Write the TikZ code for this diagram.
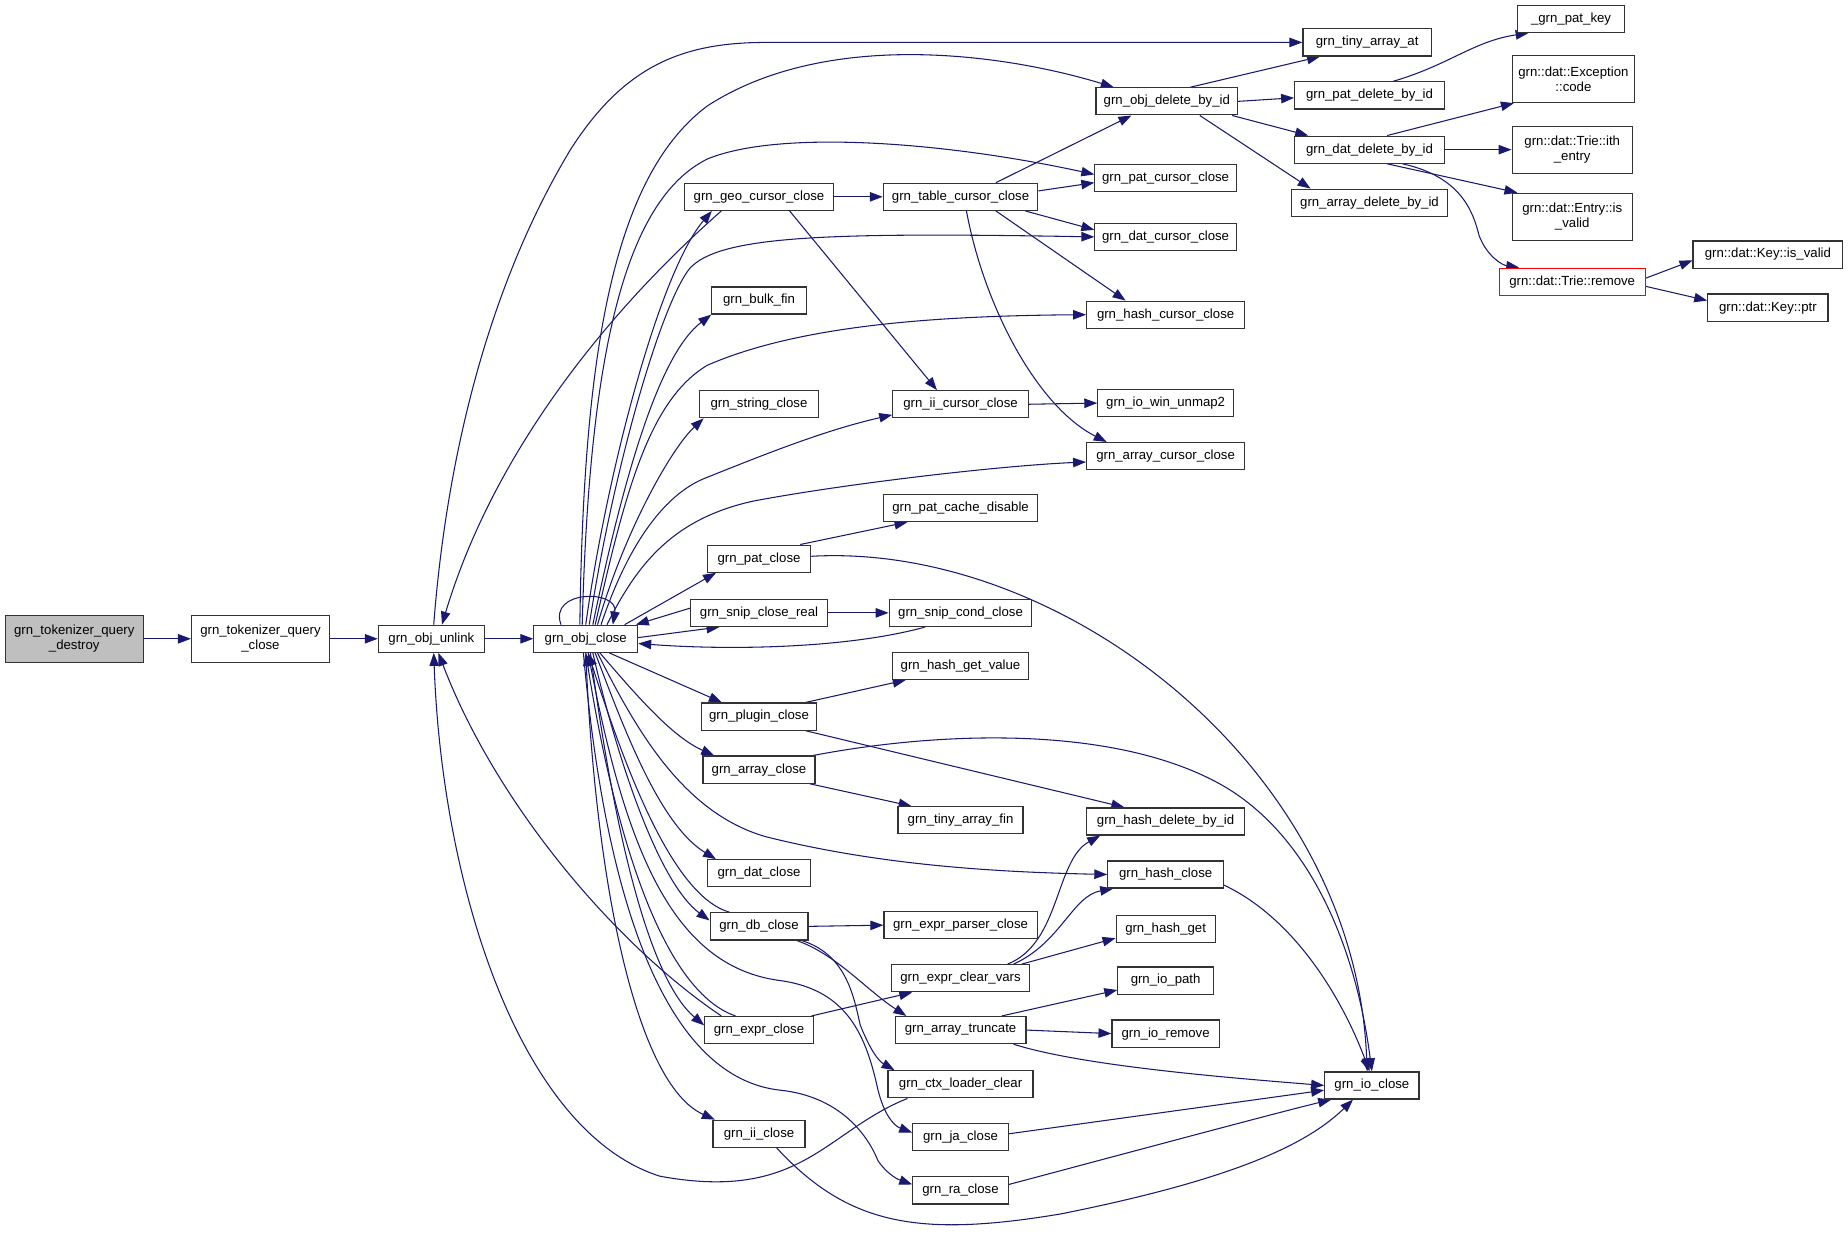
\documentclass[tikz,border=0pt]{standalone}
\usepackage{fontspec}
\setmainfont{Liberation Sans}
\usetikzlibrary{arrows.meta}
\definecolor{navyc}{HTML}{191970}
\definecolor{rootgray}{HTML}{BFBFBF}
\pgfdeclarelayer{edges}
\pgfsetlayers{edges,main}
\begin{document}
\begin{tikzpicture}[x=1pt,y=-1pt,
  box/.style={draw=black!80, line width=1pt, fill=white, minimum height=23pt, inner sep=0pt, font=\fontsize{11.2}{13}\selectfont},
  tall/.style={box, minimum height=40pt, align=center},
  conn/.style={draw=navyc, line width=0.9pt, -{Triangle[length=11pt,width=8pt]}}]
\useasboundingbox (0,0) rectangle (1568,1048);
% column A-C
\node[tall, fill=rootgray, minimum width=117pt] (destroy) at (63,542) {grn\_tokenizer\_query\\\_destroy};
\node[tall, minimum width=117pt] (tq) at (221,542) {grn\_tokenizer\_query\\\_close};
\node[box, minimum width=90pt] (unlink) at (366,542) {grn\_obj\_unlink};
\node[box, minimum width=88pt] (oc) at (497,542) {grn\_obj\_close};
% column D
\node[box, minimum width=127pt] (geo) at (644,167) {grn\_geo\_cursor\_close};
\node[box, minimum width=80pt] (bulk) at (644,255) {grn\_bulk\_fin};
\node[box, minimum width=101pt] (string) at (644,343) {grn\_string\_close};
\node[box, minimum width=88pt] (patc) at (644,474) {grn\_pat\_close};
\node[box, minimum width=116pt] (snipr) at (644,520) {grn\_snip\_close\_real};
\node[box, minimum width=98pt] (plugin) at (644,608) {grn\_plugin\_close};
\node[box, minimum width=95pt] (arrayc) at (644,653) {grn\_array\_close};
\node[box, minimum width=88pt] (datc) at (644,741) {grn\_dat\_close};
\node[box, minimum width=83pt] (dbc) at (644,786) {grn\_db\_close};
\node[box, minimum width=92pt] (exprc) at (644,874) {grn\_expr\_close};
\node[box, minimum width=78pt] (iic) at (644,962) {grn\_ii\_close};
% column E
\node[box, minimum width=131pt] (tcc) at (815,167) {grn\_table\_cursor\_close};
\node[box, minimum width=115pt] (iicc) at (815,343) {grn\_ii\_cursor\_close};
\node[box, minimum width=131pt] (pcd) at (815,431) {grn\_pat\_cache\_disable};
\node[box, minimum width=121pt] (snipc) at (815,520) {grn\_snip\_cond\_close};
\node[box, minimum width=116pt] (hgv) at (815,565) {grn\_hash\_get\_value};
\node[box, minimum width=106pt] (taf) at (815,696) {grn\_tiny\_array\_fin};
\node[box, minimum width=130pt] (epc) at (815,785) {grn\_expr\_parser\_close};
\node[box, minimum width=117pt] (ecv) at (815,830) {grn\_expr\_clear\_vars};
\node[box, minimum width=111pt] (atr) at (815,874) {grn\_array\_truncate};
\node[box, minimum width=123pt] (clc) at (815,920) {grn\_ctx\_loader\_clear};
\node[box, minimum width=81pt] (jac) at (815,965) {grn\_ja\_close};
\node[box, minimum width=81pt] (rac) at (815,1010) {grn\_ra\_close};
% column F
\node[box, minimum width=120pt] (odel) at (990,86) {grn\_obj\_delete\_by\_id};
\node[box, minimum width=120pt] (pcc) at (989,151) {grn\_pat\_cursor\_close};
\node[box, minimum width=120pt] (dcc) at (989,201) {grn\_dat\_cursor\_close};
\node[box, minimum width=134pt] (hcc) at (989,267) {grn\_hash\_cursor\_close};
\node[box, minimum width=115pt] (iwu) at (989,342) {grn\_io\_win\_unmap2};
\node[box, minimum width=134pt] (acc) at (989,387) {grn\_array\_cursor\_close};
\node[box, minimum width=134pt] (hdel) at (989,697) {grn\_hash\_delete\_by\_id};
\node[box, minimum width=98pt] (hcl) at (989,742) {grn\_hash\_close};
\node[box, minimum width=84pt] (hg) at (989,788) {grn\_hash\_get};
\node[box, minimum width=81pt] (iop) at (989,832) {grn\_io\_path};
\node[box, minimum width=91pt] (iorm) at (989,877) {grn\_io\_remove};
% column G
\node[box, minimum width=109pt] (tat) at (1160,36) {grn\_tiny\_array\_at};
\node[box, minimum width=127pt] (pdel) at (1162,81) {grn\_pat\_delete\_by\_id};
\node[box, minimum width=127pt] (ddel) at (1162,127) {grn\_dat\_delete\_by\_id};
\node[box, minimum width=132pt] (adel) at (1162,172) {grn\_array\_delete\_by\_id};
\node[box, minimum width=80pt] (ioc) at (1164,921) {grn\_io\_close};
% column H-I
\node[box, minimum width=91pt] (pkey) at (1333,16) {\_grn\_pat\_key};
\node[tall, minimum width=104pt] (exc) at (1335,67) {grn::dat::Exception\\::code};
\node[tall, minimum width=102pt] (ith) at (1334,127) {grn::dat::Trie::ith\\\_entry};
\node[tall, minimum width=102pt] (ent) at (1334,184) {grn::dat::Entry::is\\\_valid};
\node[box, draw=red, minimum width=124pt] (trm) at (1334,239) {grn::dat::Trie::remove};
\node[box, minimum width=127pt] (kv) at (1500,216) {grn::dat::Key::is\_valid};
\node[box, minimum width=102pt] (kp) at (1500,261) {grn::dat::Key::ptr};

\begin{pgfonlayer}{edges}
\draw[conn] (destroy.east) -- (tq.west);
\draw[conn] (tq.east) -- (unlink.west);
\draw[conn] (unlink.east) -- (oc.west);
\draw[conn] ([xshift=2pt]unlink.north) .. controls (378,400) and (410,250) .. (484,127) .. controls (530,55) and (580,36) .. (650,36) -- (tat.west);
\draw[conn] ([xshift=-5pt]oc.north) .. controls (495,300) and (520,150) .. (600,90) .. controls (700,25) and (850,45) .. ([xshift=-45pt]odel.north);
\draw[conn] (oc.north) .. controls (515,400) and (560,230) .. ([xshift=-40pt]geo.south);
\draw[conn] ([xshift=-32pt]geo.south) .. controls (520,260) and (420,380) .. ([xshift=9pt]unlink.north);
\draw[conn] (geo.east) -- (tcc.west);
\draw[conn] ([xshift=26pt]geo.south) -- ([xshift=-20pt]iicc.north);
\draw[conn] ([xshift=30pt]tcc.north) -- ([xshift=-30pt]odel.south);
\draw[conn] ([yshift=5pt]tcc.east) -- ([yshift=-4pt]pcc.west);
\draw[conn] ([xshift=55pt]tcc.south) -- ([yshift=6pt]dcc.west);
\draw[conn] ([xshift=30pt]tcc.south) -- ([xshift=-34pt]hcc.north);
\draw[conn] ([xshift=5pt]tcc.south) .. controls (835,260) and (880,345) .. ([xshift=-50pt]acc.north);
\draw[conn] (iicc.east) -- (iwu.west);
\draw[conn] ([xshift=-3pt]oc.north) .. controls (500,300) and (530,170) .. (600,135) .. controls (660,110) and (800,120) .. ([yshift=3pt]pcc.west);
\draw[conn] ([xshift=3pt]oc.north) .. controls (520,400) and (560,260) .. (585,228) .. controls (610,200) and (700,197) .. (dcc.west);
\draw[conn] ([xshift=6pt]oc.north) .. controls (530,400) and (560,300) .. (bulk.south west);
\draw[conn] ([xshift=8pt]oc.north) .. controls (530,420) and (550,340) .. (600,310) .. controls (680,275) and (800,268) .. (hcc.west);
\draw[conn] ([xshift=10pt]oc.north) .. controls (530,450) and (570,380) .. ([xshift=4pt]string.south west);
\draw[conn] ([xshift=13pt]oc.north) .. controls (530,470) and (560,420) .. (600,405) .. controls (650,385) and (700,365) .. ([yshift=-9pt]iicc.west);
\draw[conn] ([xshift=18pt]oc.north) .. controls (540,480) and (570,440) .. (640,425) .. controls (720,410) and (850,395) .. ([yshift=-5pt]acc.west);
\draw[conn] ([xshift=33pt]oc.north) -- ([xshift=8pt]patc.south west);
\draw[conn] ([xshift=-21pt]oc.north) .. controls (465,500) and (525,500) .. ([xshift=23pt]oc.north);
\draw[conn] ([yshift=1pt]oc.east) -- ([xshift=25pt]snipr.south west);
\draw[conn] ([yshift=4pt]snipr.west) -- ([xshift=-2pt]oc.north east);
\draw[conn] (snipr.east) -- (snipc.west);
\draw[conn] ([xshift=-30pt]snipc.south) .. controls (720,550) and (620,552) .. ([yshift=-4pt]oc.east);
\draw[conn] ([xshift=35pt]patc.north) -- ([xshift=-45pt]pcd.south);
\draw[conn] ([yshift=2pt]patc.east) .. controls (900,460) and (1150,650) .. ([xshift=-4pt]ioc.north);
\draw[conn] ([xshift=20pt]oc.south) -- ([xshift=18pt]plugin.north west);
\draw[conn] ([xshift=12pt]oc.south) .. controls (540,590) and (570,625) .. ([xshift=10pt]arrayc.north west);
\draw[conn] ([xshift=10pt]oc.south) .. controls (540,620) and (580,690) .. (650,710) .. controls (750,735) and (850,740) .. (hcl.west);
\draw[conn] ([xshift=8pt]oc.south) .. controls (530,620) and (560,700) .. ([xshift=8pt]datc.north west);
\draw[conn] ([xshift=6pt]oc.south) .. controls (525,650) and (560,750) .. ([yshift=5pt]dbc.west);
\draw[conn] ([xshift=-25pt]dbc.north) .. controls (570,760) and (530,650) .. ([xshift=2pt]oc.south);
\draw[conn] ([xshift=4pt]oc.south) .. controls (520,700) and (550,830) .. ([yshift=4pt]exprc.west);
\draw[conn] ([xshift=-20pt]exprc.north) .. controls (560,840) and (520,700) .. (oc.south);
\draw[conn] ([xshift=-32pt]exprc.north) .. controls (520,800) and (420,680) .. ([xshift=6pt]unlink.south);
\draw[conn] ([xshift=-2pt]exprc.north east) -- ([xshift=18pt]ecv.south west);
\draw[conn] (oc.south) .. controls (505,750) and (540,920) .. ([xshift=2pt]iic.north west);
\draw[conn] ([xshift=2pt]oc.south) .. controls (530,720) and (570,820) .. (662,832) .. controls (720,840) and (735,880) .. (745,925) .. controls (750,945) and (758,955) .. ([yshift=4pt]jac.west);
\draw[conn] ([xshift=-2pt]oc.south) .. controls (515,780) and (570,915) .. (662,925) .. controls (710,930) and (735,960) .. (745,985) .. controls (752,995) and (760,1000) .. ([yshift=5pt]rac.west);
\draw[conn] ([xshift=-45pt]clc.south) .. controls (700,960) and (680,1020) .. (560,998) .. controls (440,960) and (375,750) .. ([xshift=2pt]unlink.south);
\draw[conn] (dbc.east) -- (epc.west);
\draw[conn] ([xshift=32pt]dbc.south) .. controls (710,810) and (735,840) .. ([xshift=10pt]atr.north west);
\draw[conn] ([xshift=36pt]dbc.south) .. controls (720,810) and (725,850) .. (730,870) .. controls (738,890) and (745,900) .. ([xshift=6pt]clc.north west);
\draw[conn] ([xshift=40pt]ecv.north) .. controls (900,800) and (895,730) .. ([xshift=12pt]hdel.south west);
\draw[conn] ([xshift=45pt]ecv.north) .. controls (900,800) and (910,760) .. ([xshift=5pt]hcl.south west);
\draw[conn] ([xshift=52pt]ecv.north) -- ([yshift=-8pt]hg.west);
\draw[conn] ([xshift=35pt]atr.north) -- ([yshift=-8pt]iop.west);
\draw[conn] (atr.east) -- (iorm.west);
\draw[conn] ([xshift=45pt]atr.south) .. controls (920,905) and (1050,915) .. (ioc.west);
\draw[conn] ([yshift=3pt]jac.east) -- ([yshift=-4pt]ioc.west);
\draw[conn] ([yshift=5pt]rac.east) .. controls (950,980) and (1080,945) .. ([xshift=6pt]ioc.south west);
\draw[conn] ([xshift=15pt]iic.south) .. controls (720,1040) and (780,1050) .. (900,1030) .. controls (1050,1000) and (1110,970) .. ([xshift=-16pt]ioc.south);
\draw[conn] ([yshift=-9pt]hcl.east) .. controls (1100,780) and (1140,850) .. ([xshift=-2pt]ioc.north);
\draw[conn] ([xshift=-2pt]arrayc.north east) .. controls (800,620) and (950,615) .. (1040,668) .. controls (1110,710) and (1150,800) .. (ioc.north);
\draw[conn] ([xshift=-5pt]arrayc.south east) -- ([xshift=12pt]taf.north west);
\draw[conn] ([xshift=-10pt]plugin.north east) -- ([xshift=12pt]hgv.south west);
\draw[conn] ([xshift=-10pt]plugin.south east) -- ([xshift=-35pt]hdel.north);
\draw[conn] ([xshift=20pt]odel.north) -- ([xshift=15pt]tat.south west);
\draw[conn] (odel.east) -- ([yshift=-2pt]pdel.west);
\draw[conn] ([xshift=-5pt]odel.south east) -- ([xshift=12pt]ddel.north west);
\draw[conn] ([xshift=28pt]odel.south) -- ([xshift=-50pt]adel.north);
\draw[conn] ([xshift=20pt]pdel.north) .. controls (1230,55) and (1250,35) .. ([xshift=10pt]pkey.south west);
\draw[conn] ([xshift=15pt]ddel.north) -- ([xshift=2pt]exc.south west);
\draw[conn] (ddel.east) -- (ith.west);
\draw[conn] ([xshift=15pt]ddel.south) -- ([xshift=5pt]ent.north west);
\draw[conn] ([xshift=28pt]ddel.south) .. controls (1240,150) and (1250,180) .. (1255,200) .. controls (1262,218) and (1275,225) .. ([xshift=-45pt]trm.north);
\draw[conn] ([yshift=3pt]trm.east) -- ([yshift=-5pt]kv.west);
\draw[conn] ([yshift=-4pt]trm.east) -- ([yshift=6pt]kp.west);
\end{pgfonlayer}
\end{tikzpicture}
\end{document}
